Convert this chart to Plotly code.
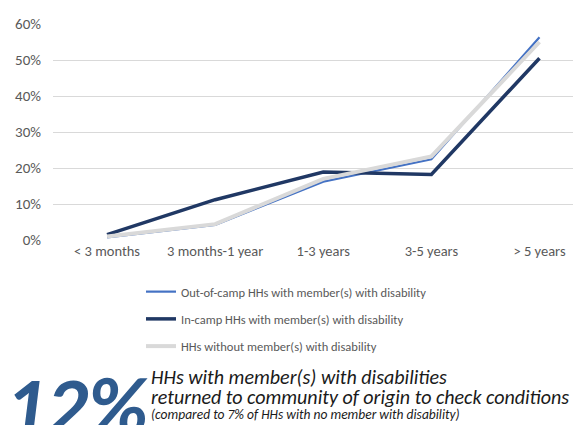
import plotly.graph_objects as go

categories = ["< 3 months", "3 months-1 year", "1-3 years", "3-5 years", "> 5 years"]
out_camp = [0.007, 0.042, 0.162, 0.224, 0.563]
in_camp = [0.015, 0.112, 0.189, 0.182, 0.505]
no_disab = [0.010, 0.044, 0.170, 0.232, 0.550]
series_names = ["Out-of-camp HHs with member(s) with disability",
                "In-camp HHs with member(s) with disability",
                "HHs without member(s) with disability"]
y_ticks = [0, 0.1, 0.2, 0.3, 0.4, 0.5, 0.6]
y_labels = ["0%", "10%", "20%", "30%", "40%", "50%", "60%"]

FONT = "Carlito, Lato, 'Open Sans', sans-serif"
GREY = "#595959"

fig = go.Figure()
fig.add_trace(go.Scatter(x=categories, y=out_camp, mode="lines", name=series_names[0],
                         line=dict(color="#4472C4", width=2.2), legendgroup="a", legendrank=1))
fig.add_trace(go.Scatter(x=categories, y=in_camp, mode="lines", name=series_names[1],
                         line=dict(color="#203864", width=3.5), legendgroup="b", legendrank=2))
fig.add_trace(go.Scatter(x=categories, y=no_disab, mode="lines", name=series_names[2],
                         line=dict(color="#D9D9D9", width=4), legendgroup="c", legendrank=3))

# page body has an 8px margin, so the figure is 8px smaller and offset accordingly
fig.update_layout(
    width=575, height=417,
    margin=dict(l=45, r=10, t=16, b=185, autoexpand=False),
    paper_bgcolor="white", plot_bgcolor="white",
    font=dict(family=FONT, color=GREY, size=13),
    showlegend=True,
    legend=dict(x=(141 - 53) / 520, y=(240 - 277) / 216, xanchor="left", yanchor="top",
                font=dict(family=FONT, size=12.5, color=GREY),
                tracegroupgap=8, itemwidth=30, bgcolor="rgba(0,0,0,0)"),
    xaxis=dict(type="category", range=[-0.5, 4.31], showgrid=False, showline=False,
               ticks="", tickfont=dict(size=14.5, color=GREY)),
    yaxis=dict(range=[0, 0.6], tickvals=y_ticks, ticktext=y_labels, showgrid=True,
               gridcolor="#D9D9D9", gridwidth=1, zeroline=False, showline=False,
               tickfont=dict(size=15, color=GREY), ticklabelstandoff=11),
)

def py(px):
    return (240 - px) / 216

fig.add_annotation(text="<b><i>12%</i></b>", xref="paper", yref="paper",
                   x=(3 - 53) / 520, y=py(458), xanchor="left", yanchor="bottom",
                   showarrow=False, font=dict(family=FONT, size=82, color="#2F5B8E"))
fig.add_annotation(text="<i>HHs with member(s) with disabilities</i>", xref="paper", yref="paper",
                   x=(149 - 53) / 520, y=py(377), xanchor="left", yanchor="middle",
                   showarrow=False, font=dict(family=FONT, size=20, color="#1a1a1a"))
fig.add_annotation(text="<i>returned to community of origin to check conditions</i>", xref="paper", yref="paper",
                   x=(149 - 53) / 520, y=py(397), xanchor="left", yanchor="middle",
                   showarrow=False, font=dict(family=FONT, size=20, color="#1a1a1a"))
fig.add_annotation(text="<i>(compared to 7% of HHs with no member with disability)</i>", xref="paper", yref="paper",
                   x=(149 - 53) / 520, y=py(414), xanchor="left", yanchor="middle",
                   showarrow=False, font=dict(family=FONT, size=13.5, color="#1a1a1a"))

fig.write_html("out.html")
